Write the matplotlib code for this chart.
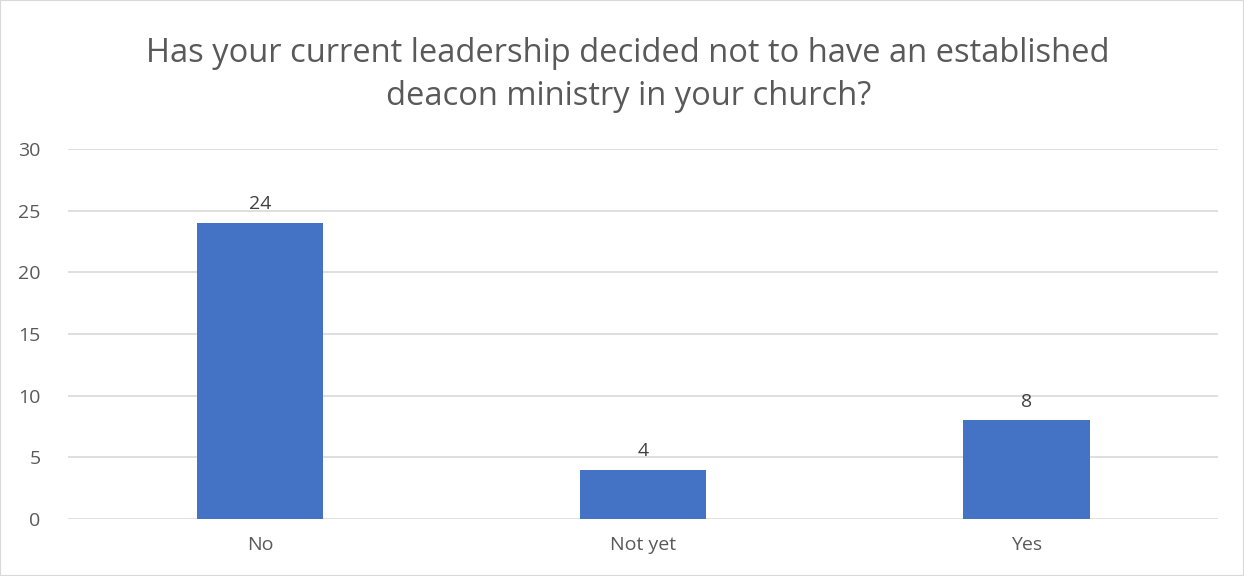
import matplotlib.pyplot as plt
from matplotlib.patches import Rectangle

plt.rcParams['font.family'] = ['Open Sans', 'DejaVu Sans']

categories = ["No", "Not yet", "Yes"]
counts = [24, 4, 8]

text_color = "#595959"
grid_color = "#D9D9D9"

fig = plt.figure(figsize=(12.44, 5.76), dpi=100)
ax = fig.add_axes([0.055, 0.099, 0.924, 0.642])

x = range(len(categories))
bars = ax.bar(x, counts, width=0.33, color="#4472C4", zorder=3)
for b, v in zip(bars, counts):
    ax.annotate(str(v), (b.get_x() + b.get_width() / 2, v),
                xytext=(0, 7), textcoords="offset points",
                ha="center", va="bottom", fontsize=14, color="#404040")

ax.set_xlim(-0.5, len(categories) - 0.5)
ax.set_ylim(0, 30)
ax.set_yticks(range(0, 31, 5))
ax.set_xticks(list(x))
ax.set_xticklabels(categories)
ax.tick_params(length=0, labelsize=14, labelcolor=text_color)
ax.tick_params(axis="x", pad=12)
ax.tick_params(axis="y", pad=20)
ax.grid(axis="y", color=grid_color, linewidth=1.2, zorder=0)
for s in ax.spines.values():
    s.set_visible(False)

fig.text(0.505, 0.870, "Has your current leadership decided not to have an established\ndeacon ministry in your church?",
         ha="center", va="center", fontsize=23.5, color=text_color, linespacing=1.4)

fig.patches.append(Rectangle((0, 0), 1, 1, transform=fig.transFigure,
                             fill=False, edgecolor=grid_color, linewidth=1.5))

fig.savefig("out.png", dpi=100)
